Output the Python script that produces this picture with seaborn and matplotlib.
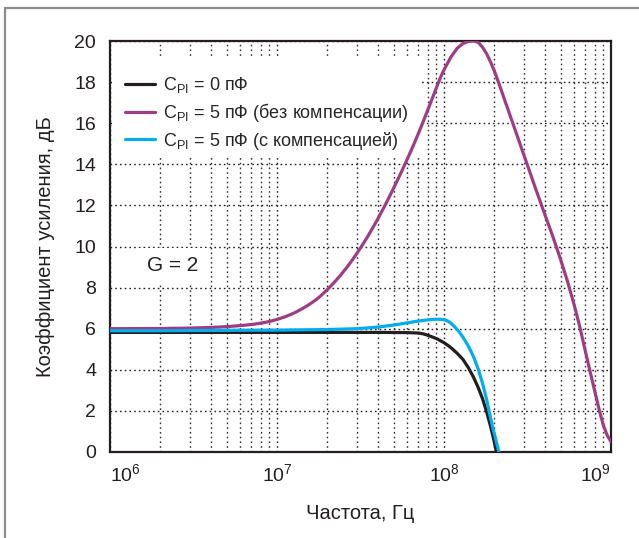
import matplotlib
matplotlib.use('Agg')
import matplotlib.pyplot as plt
import seaborn as sns
import pandas as pd
from matplotlib.lines import Line2D
from matplotlib.patches import Rectangle

# values: frequency (Hz) and gain (dB)
freq_0pf = [1e6, 2e6, 5e6, 1e7, 2e7, 4e7, 6e7, 7e7, 7.5e7, 8e7, 8.5e7, 9e7, 9.5e7,
            1e8, 1.05e8, 1.1e8, 1.2e8, 1.3e8, 1.4e8, 1.5e8, 1.6e8, 1.7e8,
            1.8e8, 1.9e8, 2.0e8, 2.06e8]
gain_0pf = [5.82, 5.82, 5.82, 5.82, 5.82, 5.82, 5.81, 5.79, 5.75, 5.68, 5.60, 5.52, 5.42,
            5.32, 5.20, 5.08, 4.80, 4.50, 4.10, 3.65, 3.15, 2.60,
            1.95, 1.25, 0.50, 0.0]

freq_5pf = [1e6, 2e6, 3e6, 4e6, 5e6, 6e6, 7e6, 8e6, 9e6, 1e7, 1.1e7, 1.2e7, 1.3e7,
            1.4e7, 1.5e7, 1.6e7, 1.7e7, 1.8e7, 2e7, 2.2e7, 2.4e7, 2.6e7, 2.8e7,
            3e7, 3.25e7, 3.5e7, 3.8e7, 4e7, 4.5e7, 5e7, 5.5e7, 6e7, 6.5e7, 7e7,
            7.5e7, 8e7, 8.5e7, 9e7, 9.5e7, 1e8, 1.1e8, 1.2e8, 1.3e8, 1.4e8, 1.5e8,
            1.6e8, 1.7e8, 1.8e8, 1.9e8, 2e8, 2.1e8, 2.2e8, 2.3e8, 2.4e8, 2.5e8,
            2.6e8, 2.8e8, 3e8, 3.2e8, 3.5e8, 4e8, 4.5e8, 5e8, 5.5e8, 6e8, 6.5e8,
            7e8, 7.5e8, 8e8, 8.5e8, 9e8, 9.5e8, 1e9]
gain_5pf = [6.0, 6.01, 6.03, 6.06, 6.1, 6.15, 6.2, 6.27, 6.35, 6.45, 6.56, 6.68, 6.81,
            6.95, 7.09, 7.24, 7.39, 7.55, 7.9, 8.25, 8.6, 8.95, 9.3,
            9.65, 10.08, 10.5, 11.0, 11.32, 12.1, 12.85, 13.55, 14.22, 14.85, 15.47,
            16.07, 16.65, 17.2, 17.72, 18.2, 18.6, 19.22, 19.65, 19.88, 19.98, 20.0,
            19.94, 19.7, 19.38, 18.98, 18.55, 18.08, 17.62, 17.16, 16.74, 16.32,
            15.93, 15.18, 14.48, 13.83, 12.92, 11.6, 10.45, 9.35, 8.28, 7.2, 6.1,
            4.95, 3.9, 2.95, 2.05, 1.3, 0.8, 0.5]

freq_comp = [1e6, 2e6, 5e6, 1e7, 2e7, 3e7, 3.5e7, 4e7, 4.5e7, 5e7, 5.5e7, 6e7,
             6.5e7, 7e7, 7.5e7, 8e7, 8.5e7, 9e7, 9.5e7, 1e8, 1.05e8, 1.1e8, 1.15e8,
             1.2e8, 1.25e8, 1.3e8, 1.4e8, 1.5e8, 1.6e8, 1.7e8, 1.8e8, 1.86e8,
             1.95e8, 2.05e8, 2.13e8]
gain_comp = [5.9, 5.9, 5.92, 5.93, 5.96, 6.0, 6.04, 6.08, 6.13, 6.18, 6.23, 6.28,
             6.33, 6.37, 6.4, 6.43, 6.45, 6.46, 6.46, 6.44, 6.38, 6.27, 6.12,
             5.95, 5.78, 5.58, 5.15, 4.65, 4.05, 3.35, 2.55, 2.0,
             1.25, 0.55, 0.0]

xticks = [1e6, 1e7, 1e8, 1e9]
yticks = list(range(0, 21, 2))

labels = [r'C$_{\mathrm{PI}}$ = 0 пФ',
          r'C$_{\mathrm{PI}}$ = 5 пФ (без компенсации)',
          r'C$_{\mathrm{PI}}$ = 5 пФ (с компенсацией)']
colors = ['#231f20', '#9e3d84', '#00aeef']

sns.set_style('white')
plt.rcParams['font.family'] = ['Liberation Sans', 'DejaVu Sans']
plt.rcParams['mathtext.fontset'] = 'custom'
plt.rcParams['mathtext.rm'] = 'Liberation Sans'
plt.rcParams['mathtext.it'] = 'Liberation Sans:italic'
plt.rcParams['mathtext.bf'] = 'Liberation Sans:bold'

fig = plt.figure(figsize=(6.39, 5.38), dpi=100)
ax = fig.add_axes([110 / 639, 1 - 452 / 538, 501 / 639, 411 / 538])

df = pd.concat([
    pd.DataFrame({'f': freq_0pf, 'g': gain_0pf, 'c': labels[0]}),
    pd.DataFrame({'f': freq_5pf, 'g': gain_5pf, 'c': labels[1]}),
    pd.DataFrame({'f': freq_comp, 'g': gain_comp, 'c': labels[2]}),
])

sns.lineplot(data=df, x='f', y='g', hue='c', hue_order=labels, palette=colors,
             lw=2.3, sort=False, estimator=None, ax=ax, zorder=3)

ax.set_xscale('log')
ax.set_xlim(1e6, 1e9)
ax.set_ylim(0, 20)
ax.set_xticks(xticks)
ax.set_yticks(yticks)
ax.set_axisbelow(True)
ax.grid(True, which='major', color='#222222', ls=(0, (1.2, 2.2)), lw=1.0)
ax.grid(True, which='minor', axis='x', color='#333333', ls=(0, (1.2, 2.2)), lw=1.0)
ax.tick_params(which='both', length=0, labelsize=14, colors='#231f20')
ax.tick_params(axis='x', pad=8)
ax.tick_params(axis='y', pad=10)
for s in ax.spines.values():
    s.set_color('#231f20')
    s.set_linewidth(1.6)

xl = ax.get_xticklabels()
xl[0].set_horizontalalignment('left')
xl[-1].set_horizontalalignment('right')

ax.set_xlabel('Частота, Гц', fontsize=14.5, color='#231f20', labelpad=14)
ax.set_ylabel('Коэффициент усиления, дБ', fontsize=14.5, color='#231f20', labelpad=14)

# white boxes that hide the grid behind the legend and the G label
ax.add_patch(Rectangle((0.003, 0.715), 0.617, 0.245, transform=ax.transAxes,
                       facecolor='white', edgecolor='none', zorder=1))
ax.legend(loc='upper left', bbox_to_anchor=(0.03, 0.917), frameon=False,
          borderpad=0, borderaxespad=0, fontsize=13, handlelength=1.65,
          handletextpad=0.45, labelspacing=0.32)
ax.text(0.125, 0.453, 'G = 2', transform=ax.transAxes, fontsize=15,
        ha='center', va='center', color='#231f20', zorder=2,
        bbox=dict(facecolor='white', edgecolor='none', pad=6))

# open outer frame (top and left)
fig.add_artist(Line2D([5 / 639, 1.0], [1 - 8 / 538, 1 - 8 / 538],
                      transform=fig.transFigure, color='#8c8c8c', lw=1.6))
fig.add_artist(Line2D([5 / 639, 5 / 639], [0.0, 1 - 8 / 538],
                      transform=fig.transFigure, color='#8c8c8c', lw=1.6))

fig.savefig('out.png', dpi=100)
